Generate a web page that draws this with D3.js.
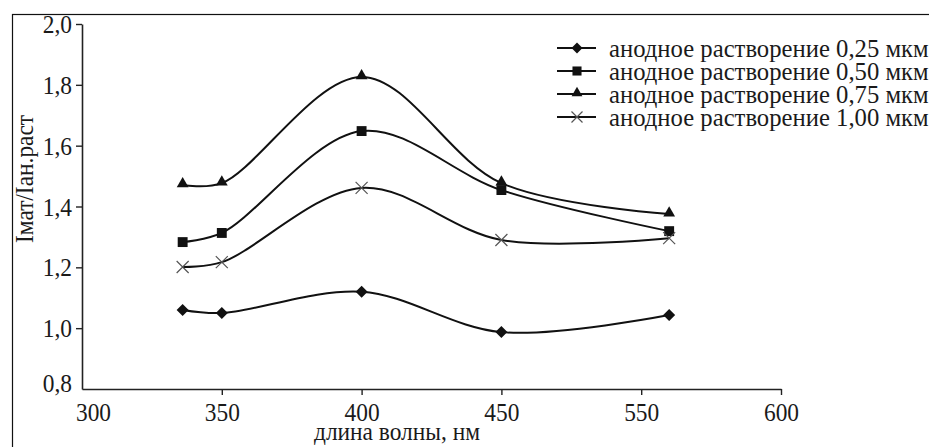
<!DOCTYPE html>
<html>
<head>
<meta charset="utf-8">
<script src="https://cdn.jsdelivr.net/npm/d3@7"></script>
<style>
  body { margin: 0; background: #fff; overflow: hidden; }
  svg { display: block; }
</style>
</head>
<body>
<script>
// wavelengths, nm (x axis is broken between 450 and 550)
const wavelengths = [336, 350, 400, 450, 560];
const xTicks = [300, 350, 400, 450, 550, 600];
const yTicks = [0.8, 1.0, 1.2, 1.4, 1.6, 1.8, 2.0];

const names = [
  "анодное растворение 0,25 мкм",
  "анодное растворение 0,50 мкм",
  "анодное растворение 0,75 мкм",
  "анодное растворение 1,00 мкм"
];
const s025 = [1.06, 1.05, 1.12, 0.987, 1.043];
const s050 = [1.283, 1.313, 1.648, 1.454, 1.319];
const s075 = [1.471, 1.477, 1.826, 1.477, 1.375];
const s100 = [1.201, 1.217, 1.461, 1.29, 1.296];
const symbols = ["diamond", "square", "triangle", "cross"];

const svgWidth = 929, svgHeight = 447;
const plotLeft = 82, plotRight = 781, plotTop = 24, plotBottom = 389;
const step = (plotRight - plotLeft) / 5;
const FONT = "'Liberation Serif'";
const fontSize = 26, sx = 0.9;   // the figure's type is a bit narrow

const svg = d3.select("body").append("svg")
  .attr("width", svgWidth)
  .attr("height", svgHeight)
  .attr("font-family", FONT);

// frame round the figure
svg.append("rect")
  .attr("x", 12.5).attr("y", 14.5)
  .attr("width", 940).attr("height", 460)
  .attr("fill", "none").attr("stroke", "#111").attr("stroke-width", 1.2);

var x = d3.scaleLinear()
  .domain([300, 450, 550, 600])
  .range([plotLeft, plotLeft + 3 * step, plotLeft + 4 * step, plotRight]);
var y = d3.scaleLinear().domain([0.8, 2.0]).range([plotBottom, plotTop]);

const fmt = d => d3.format(".1f")(d).replace(".", ",");

var gx = svg.append("g")
  .attr("transform", "translate(0," + plotBottom + ")")
  .call(d3.axisBottom(x).tickValues(xTicks).tickSize(6).tickSizeOuter(0));
var gy = svg.append("g")
  .attr("transform", "translate(" + plotLeft + ",0)")
  .call(d3.axisLeft(y).tickValues(yTicks).tickSize(6).tickSizeOuter(0).tickFormat(fmt));

[gx, gy].forEach(function (g) {
  g.attr("font-family", FONT).attr("font-size", fontSize);
  g.select(".domain").attr("stroke", "#222").attr("stroke-width", 1.6);
  g.selectAll(".tick line").attr("stroke", "#222").attr("stroke-width", 1.4);
  g.selectAll(".tick text")
    .attr("font-family", FONT)
    .attr("font-size", fontSize)
    .attr("fill", "#1a1a1a")
    .attr("transform", "scale(" + sx + ",1)");
});
gy.selectAll(".tick text").attr("x", -10 / sx).attr("dy", "0.33em");
gx.selectAll(".tick text").attr("y", 32).attr("dy", null);

// corner labels: no tick, nudged off the corner
gy.selectAll(".tick").filter(d => d === 0.8).select("line").remove();
gy.selectAll(".tick").filter(d => d === 0.8).select("text").attr("y", -6);
gx.selectAll(".tick").filter(d => d === 300).select("text").attr("x", 11 / sx);
gx.selectAll(".tick").filter(d => d === 300).select("line").remove();

// axis titles
svg.append("text")
  .attr("transform", "translate(397,440) scale(" + sx + ",1)")
  .attr("text-anchor", "middle")
  .attr("font-family", FONT)
  .attr("font-size", fontSize)
  .attr("fill", "#1a1a1a")
  .text("длина волны, нм");
svg.append("text")
  .attr("transform", "translate(33,179) rotate(-90) scale(" + sx + ",1)")
  .attr("text-anchor", "middle")
  .attr("font-family", FONT)
  .attr("font-size", fontSize)
  .attr("fill", "#1a1a1a")
  .text("Iмат/Iан.раст");

const series = [s025, s050, s075, s100];

var line = d3.line()
  .x((d, i) => x(wavelengths[i]))
  .y(d => y(d))
  .curve(d3.curveCatmullRom.alpha(0.5));

function drawMarker(g, type, size) {
  if (type === "cross") {
    var h = size / 2;
    g.append("path")
      .attr("d", "M" + -h + "," + -h + "L" + h + "," + h + "M" + -h + "," + h + "L" + h + "," + -h)
      .attr("stroke", "#555").attr("stroke-width", 1.2).attr("fill", "none");
  } else {
    var sym = type === "diamond" ? d3.symbol().type(d3.symbolSquare).size(size * size * 0.5)
      : type === "square" ? d3.symbol().type(d3.symbolSquare).size(size * size * 0.68)
      : d3.symbol().type(d3.symbolTriangle).size(size * size * 0.42);
    var p = g.append("path").attr("d", sym()).attr("fill", "#111");
    if (type === "diamond") p.attr("transform", "rotate(45)");
    if (type === "triangle") p.attr("transform", "translate(0,-1)");
  }
}

series.forEach(function (vals, k) {
  svg.append("path")
    .datum(vals)
    .attr("d", line)
    .attr("fill", "none")
    .attr("stroke", "#111")
    .attr("stroke-width", 2);
  vals.forEach(function (v, i) {
    var g = svg.append("g")
      .attr("transform", "translate(" + x(wavelengths[i]) + "," + y(v) + ")");
    drawMarker(g, symbols[k], 12);
  });
});

// legend
var legend = svg.append("g");
names.forEach(function (name, k) {
  var ly = 48 + k * 23;
  legend.append("line")
    .attr("x1", 557).attr("x2", 596).attr("y1", ly).attr("y2", ly)
    .attr("stroke", "#111").attr("stroke-width", 2);
  var g = legend.append("g").attr("transform", "translate(577," + ly + ")");
  drawMarker(g, symbols[k], 11);
  legend.append("text")
    .attr("transform", "translate(609," + ly + ") scale(0.95,1)")
    .attr("dy", "0.33em")
    .attr("font-family", FONT)
    .attr("font-size", fontSize)
    .attr("fill", "#1a1a1a")
    .text(name);
});
</script>
</body>
</html>
